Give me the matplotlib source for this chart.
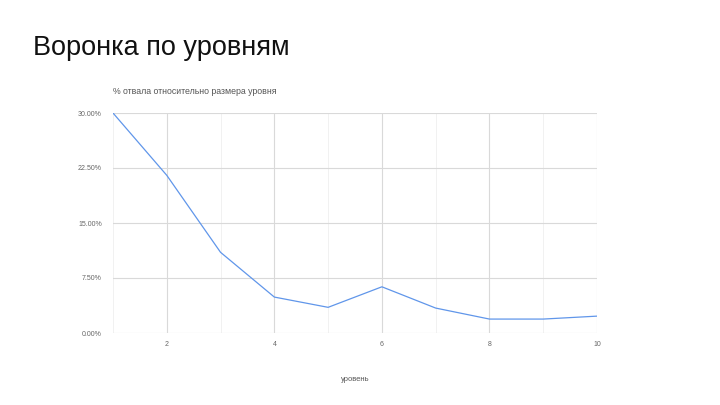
import matplotlib.pyplot as plt
from matplotlib.ticker import FuncFormatter, MultipleLocator

plt.rcParams.update({
    "font.family": ["Liberation Sans", "DejaVu Sans"],
    "font.size": 5,
})

# data
levels = [1, 2, 3, 4, 5, 6, 7, 8, 9, 10]
churn_pct = [30.0, 21.5, 11.0, 4.9, 3.5, 6.3, 3.4, 1.9, 1.9, 2.3]
y_ticks = [0, 7.5, 15, 22.5, 30]
x_ticks = [2, 4, 6, 8, 10]

fig = plt.figure(figsize=(7.2, 4.05), dpi=100)
fig.text(33 / 720, 1 - 48 / 405, "Воронка по уровням", fontsize=19.5,
         va="center", ha="left", color="#111111")

ax = fig.add_axes([113 / 720, 1 - 333 / 405, 484 / 720, 220 / 405])
ax.plot(levels, churn_pct, color="#6096ea", linewidth=0.9)

ax.set_xlim(1, 10)
ax.set_ylim(0, 30)
ax.set_xticks(x_ticks)
ax.set_yticks(y_ticks)
ax.xaxis.set_minor_locator(MultipleLocator(1))
ax.yaxis.set_major_formatter(FuncFormatter(lambda v, p: f"{v:.2f}%"))

ax.grid(True, which="major", color="#d9d9d9", linewidth=0.8)
ax.grid(True, which="minor", axis="x", color="#efefef", linewidth=0.6)
ax.set_axisbelow(True)
for s in ax.spines.values():
    s.set_visible(False)
ax.tick_params(which="both", length=0, colors="#666666", labelsize=5)
ax.tick_params(axis="y", pad=8)
ax.tick_params(axis="x", pad=6)

ax.set_title("% отвала относительно размера уровня", fontsize=6.3,
             color="#555555", loc="left", x=0.0, pad=14)
ax.set_xlabel("уровень", fontsize=5.5, color="#555555", labelpad=20)

fig.savefig("out.png", dpi=100, facecolor="white")
